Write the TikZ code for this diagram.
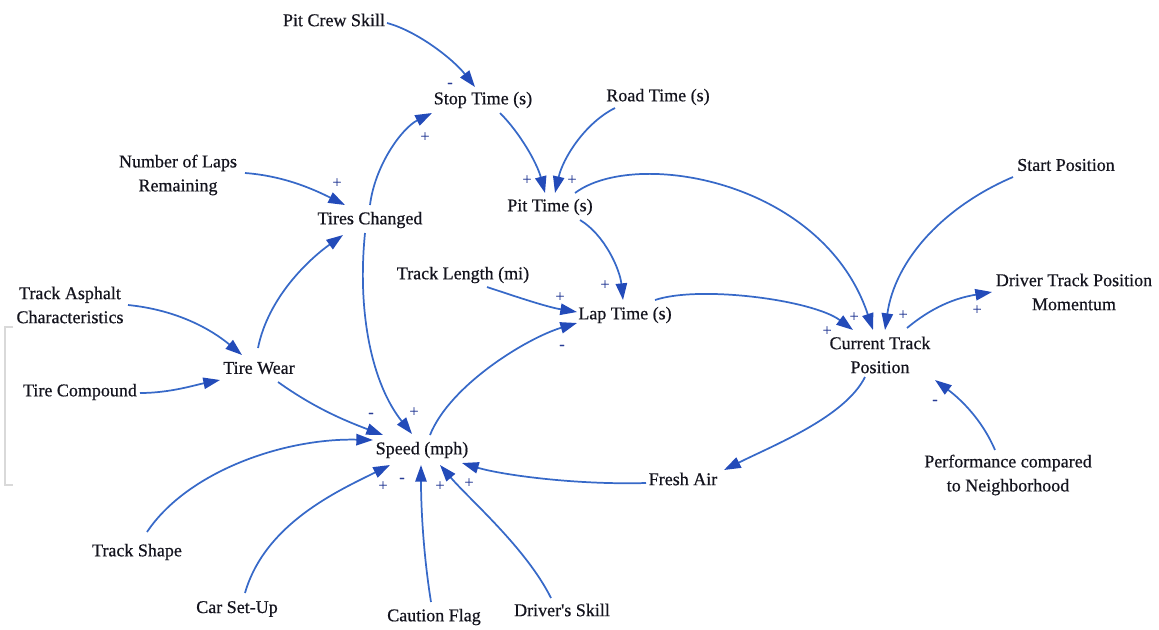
\documentclass[tikz,border=0pt]{standalone}
\usepackage{fontspec}
\setmainfont{Liberation Serif}[FakeBold=0.6]
\usetikzlibrary{arrows.meta,calc}
\definecolor{arrblue}{RGB}{55,105,200}
\definecolor{arrhead}{RGB}{35,75,185}
\definecolor{sgn}{RGB}{40,60,150}
\definecolor{txt}{RGB}{20,20,30}
\begin{document}
\begin{tikzpicture}[x=0.75pt,y=-0.75pt,
  var/.style={inner sep=0pt, align=center, font=\fontsize{13.5}{18}\selectfont, text=txt},
  arr/.style={draw=arrblue, line width=1.3pt, -{Triangle[length=12.5pt,width=8.5pt,color=arrhead]}},
  sg/.style={inner sep=0pt, font=\fontsize{12}{12}\selectfont, text=sgn}]
\useasboundingbox (0,0) rectangle (1159,629);
% faint frame remnant
\draw[gray!30, line width=0.8pt] (13,327) -- (5,327) -- (5,485) -- (13,485);
% variables
\node[var] (pcs) at (334,20) {Pit Crew Skill};
\node[var] (stop) at (483,100) {Stop Time (s)};
\node[var] (road) at (658,97) {Road Time (s)};
\node[var] (nl) at (178,175) {Number of Laps\\Remaining};
\node[var] (tc) at (370,220) {Tires Changed};
\node[var] (pit) at (550,207) {Pit Time (s)};
\node[var] (sp) at (1066,165) {Start Position};
\node[var] (tl) at (463,275) {Track Length (mi)};
\node[var] (lap) at (625,315) {Lap Time (s)};
\node[var] (ta) at (70,305) {Track Asphalt\\Characteristics};
\node[var] (tw) at (259,368) {Tire Wear};
\node[var] (tcomp) at (80,392) {Tire Compound};
\node[var] (ctp) at (880,355) {Current Track\\Position};
\node[var] (dtp) at (1074,292) {Driver Track Position\\Momentum};
\node[var] (speed) at (422,450) {Speed (mph)};
\node[var] (fa) at (683,479) {Fresh Air};
\node[var] (perf) at (1008,475) {Performance compared\\to Neighborhood};
\node[var] (ts) at (137,552) {Track Shape};
\node[var] (car) at (237,609) {Car Set-Up};
\node[var] (caution) at (434,617) {Caution Flag};
\node[var] (ds) at (562,610) {Driver\textquotesingle s Skill};
% connectors
\draw[arr] ($(pcs)+(53,3)$) .. controls +(30,8) and +(-22,-28) .. ($(stop)+(-8,-13)$);
\draw[arr] ($(tc)+(0,-15)$) .. controls +(5,-40) and +(-30,15) .. ($(stop)+(-51,13)$);
\draw[arr] ($(stop)+(17,13)$) .. controls +(20,20) and +(-8,-30) .. ($(pit)+(-5,-14)$);
\draw[arr] ($(road)+(-43,11)$) .. controls +(-30,15) and +(8,-35) .. ($(pit)+(5,-14)$);
\draw[arr] ($(pit)+(25,-14)$) .. controls +(60,-45) and +(-50,-150) .. ($(ctp)+(-7,-25)$);
\draw[arr] ($(pit)+(30,13)$) .. controls +(25,15) and +(-3,-30) .. ($(lap)+(-2,-15)$);
\draw[arr] ($(tl)+(24,12)$) .. controls +(30,10) and +(-30,-5) .. ($(lap)+(-48,-3)$);
\draw[arr] ($(speed)+(8,-15)$) .. controls +(20,-50) and +(-50,15) .. ($(lap)+(-48,8)$);
\draw[arr] ($(lap)+(30,-15)$) .. controls +(45,-15) and +(-40,-30) .. ($(ctp)+(-27,-25)$);
\draw[arr] ($(nl)+(67,-2)$) .. controls +(40,3) and +(-30,-15) .. ($(tc)+(-25,-15)$);
\draw[arr] ($(tw)+(-1,-20)$) .. controls +(10,-50) and +(-35,25) .. ($(tc)+(-27,15)$);
\draw[arr] ($(ta)+(58,0)$) .. controls +(50,5) and +(-30,-25) .. ($(tw)+(-17,-13)$);
\draw[arr] ($(tcomp)+(60,1)$) .. controls +(30,0) and +(-25,5) .. ($(tw)+(-39,12)$);
\draw[arr] ($(tw)+(19,14)$) .. controls +(35,25) and +(-40,-15) .. ($(speed)+(-39,-15)$);
\draw[arr] ($(tc)+(-5,13)$) .. controls +(-8,80) and +(-40,-50) .. ($(speed)+(-10,-16)$);
\draw[arr] ($(ts)+(10,-20)$) .. controls +(40,-60) and +(-90,-2) .. ($(speed)+(-49,-10)$);
\draw[arr] ($(car)+(8,-16)$) .. controls +(20,-70) and +(-50,25) .. ($(speed)+(-32,15)$);
\draw[arr] ($(caution)+(-3,-15)$) .. controls +(-8,-50) and +(0,40) .. ($(speed)+(-1,15)$);
\draw[arr] ($(ds)+(-11,-12)$) .. controls +(-25,-50) and +(30,35) .. ($(speed)+(18,15)$);
\draw[arr] ($(fa)+(-37,4)$) .. controls +(-70,2) and +(40,12) .. ($(speed)+(40,13)$);
\draw[arr] ($(ctp)+(-15,22)$) .. controls +(-20,40) and +(50,-25) .. ($(fa)+(41,-9)$);
\draw[arr] ($(sp)+(-53,12)$) .. controls +(-70,30) and +(10,-70) .. ($(ctp)+(5,-25)$);
\draw[arr] ($(ctp)+(27,-27)$) .. controls +(30,-25) and +(-30,5) .. ($(dtp)+(-82,0)$);
\draw[arr] ($(perf)+(-13,-25)$) .. controls +(-15,-35) and +(20,15) .. ($(ctp)+(55,25)$);
% polarity signs
\node[sg] (s1) at (450,85) {-};
\node[sg] (s2) at (425,137) {+};
\node[sg] (s3) at (527,180) {+};
\node[sg] (s4) at (572,180) {+};
\node[sg] (s5) at (337,183) {+};
\node[sg] (s6) at (605,285) {+};
\node[sg] (s7) at (560,297) {+};
\node[sg] (s8) at (562,347) {-};
\node[sg] (s9) at (854,317) {+};
\node[sg] (s10) at (903,315) {+};
\node[sg] (s11) at (827,331) {+};
\node[sg] (s12) at (977,310) {+};
\node[sg] (s13) at (935,402) {-};
\node[sg] (s14) at (371,415) {-};
\node[sg] (s15) at (414,412) {+};
\node[sg] (s16) at (383,486) {+};
\node[sg] (s17) at (402,480) {-};
\node[sg] (s18) at (440,486) {+};
\node[sg] (s19) at (469,483) {+};
\end{tikzpicture}
\end{document}
